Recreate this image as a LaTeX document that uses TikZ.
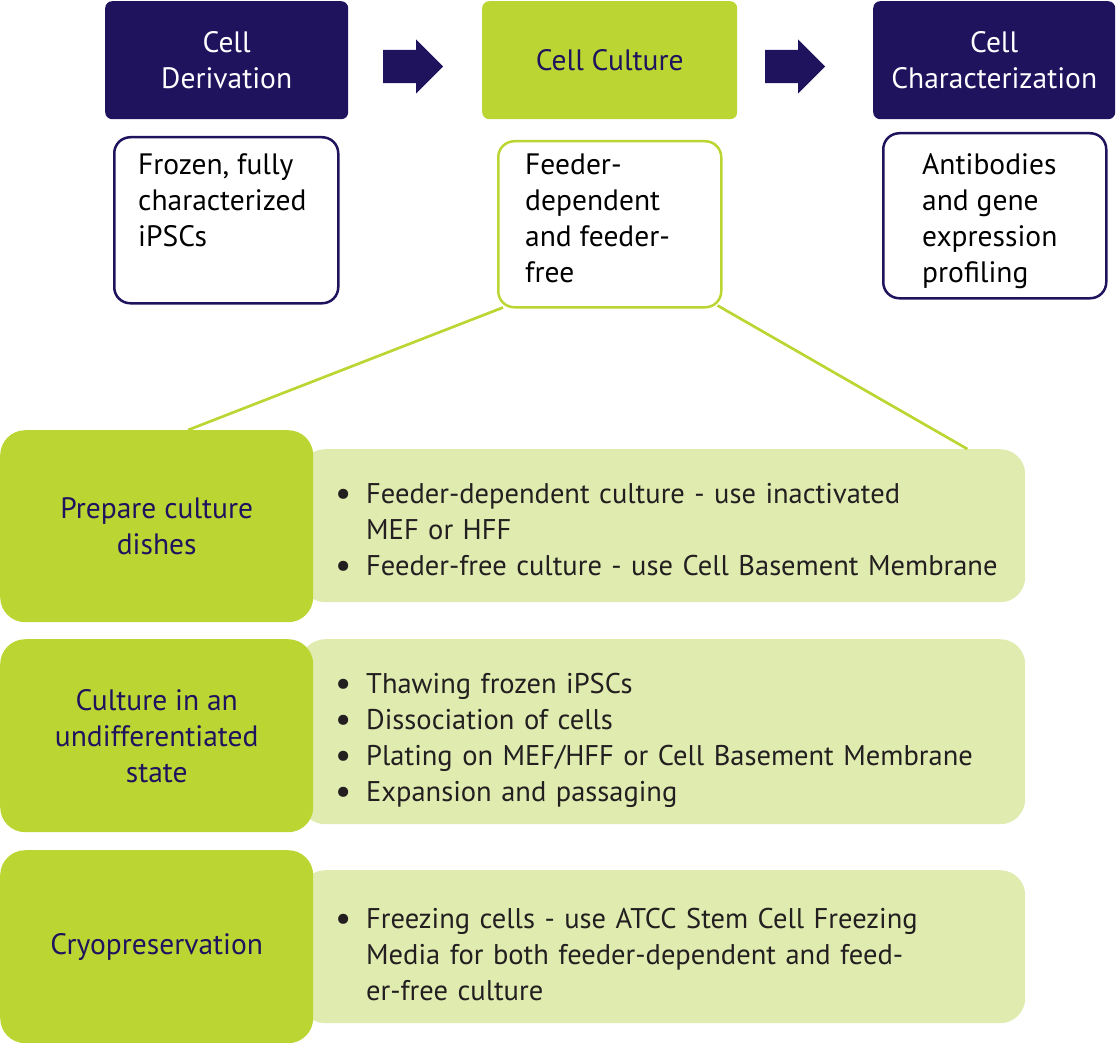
\documentclass[tikz,border=0pt]{standalone}
\usepackage{fontspec}
\setmainfont{PT Sans}
\usepackage{tikz}
\usetikzlibrary{shapes.arrows, positioning, calc}
\definecolor{atccnavy}{RGB}{32,19,94}
\definecolor{atccgreen}{RGB}{187,214,50}
\definecolor{atcclight}{RGB}{224,235,176}
\definecolor{atccink}{RGB}{35,31,32}
\newcommand{\bitem}{\par\hangindent=31pt\hangafter=1\noindent\makebox[31pt][l]{\fontsize{36}{36}\selectfont\raisebox{-2.5pt}{\textbullet}}}

\begin{document}
\begin{tikzpicture}[
    x=1pt, y=-1pt,
    every node/.style={font=\fontsize{29.5}{36}\selectfont},
    stage/.style={rectangle, rounded corners=7pt, anchor=north west, minimum width=243pt, minimum height=118pt, align=center, inner sep=0pt},
    darkstage/.style={stage, fill=atccnavy, text=white},
    greenstage/.style={stage, fill=atccgreen, text=atccnavy},
    notebox/.style={rectangle, rounded corners=16pt, line width=2.5pt, fill=white, anchor=north west, minimum width=223pt, minimum height=166pt, inner sep=0pt},
    notetext/.style={anchor=north west, align=left, inner sep=0pt, text=black},
    blockarrow/.style={single arrow, fill=atccnavy, minimum height=60pt, single arrow head extend=10.5pt, inner xsep=0pt, inner ysep=16.5pt, anchor=tail},
    stepbox/.style={rectangle, rounded corners=25pt, fill=atccgreen, text=atccnavy, anchor=north west, minimum width=313pt, minimum height=192pt, align=center, inner sep=0pt},
    listbox/.style={rectangle, rounded corners=25pt, fill=atcclight, anchor=north west, minimum width=725pt, inner sep=0pt},
    listtext/.style={anchor=north west, text width=690pt, inner sep=0pt, text=atccink, font=\fontsize{28.5}{36}\selectfont},
    link/.style={atccgreen, line width=2.7pt}
]
\useasboundingbox (0,0) rectangle (1116,1043);

% top row: the three stages
\node[darkstage] (deriv) at (105,1) {Cell\\Derivation};
\node[greenstage, minimum width=255pt] (culture) at (482,1) {Cell Culture};
\node[darkstage, minimum width=242pt] (charact) at (873,1) {Cell\\Characterization};
\node[blockarrow] (arr1) at (383,66.5) {};
\node[blockarrow] (arr2) at (765,66.5) {};

% notes under the stages
\node[notebox, draw=atccnavy, minimum width=224pt] (derivnote) at (113,136) {};
\node[notebox, draw=atccgreen] (cultnote) at (497,140) {};
\node[notebox, draw=atccnavy, minimum height=165pt] (charnote) at (882,132) {};
\node[notetext] (derivtxt) at (138,153) {Frozen, fully\\characterized\\iPSCs};
\node[notetext] (culttxt) at (525,154) {Feeder-\\dependent\\and feeder-\\free};
\node[notetext] (chartxt) at (922,153) {Antibodies\\and gene\\expression\\profiling};

% culture steps
\node[listbox, minimum height=153pt] (preplist) at (300,449) {};
\node[stepbox] (prepstep) at (0,430) {Prepare culture\\dishes};
\node[listtext] (preptxt) at (335,467) {\bitem Feeder-dependent culture - use inactivated\newline MEF or HFF
  \bitem Feeder-free culture - use Cell Basement Membrane\par};

\node[listbox, minimum height=185pt] (undiflist) at (300,639) {};
\node[stepbox, minimum height=193pt] (undifstep) at (0,639) {Culture in an\\undifferentiated\\state};
\node[listtext] (undiftxt) at (335,657) {\bitem Thawing frozen iPSCs
  \bitem Dissociation of cells
  \bitem Plating on MEF/HFF or Cell Basement Membrane
  \bitem Expansion and passaging\par};

\node[listbox, minimum height=153pt] (cryolist) at (300,870) {};
\node[stepbox, minimum height=193pt] (cryostep) at (0,850) {Cryopreservation};
\node[listtext] (cryotxt) at (335,892) {\bitem Freezing cells - use ATCC Stem Cell Freezing\newline Media for both feeder-dependent and feed-\newline er-free culture\par};

\draw[link] ($(cultnote.south west)+(6,-1)$) -- ($(prepstep.north west)!0.6!(prepstep.north east)$);
\draw[link] ($(cultnote.south east)+(-5,-3)$) -- ($(preplist.north west)!0.92!(preplist.north east)$);
\end{tikzpicture}
\end{document}
